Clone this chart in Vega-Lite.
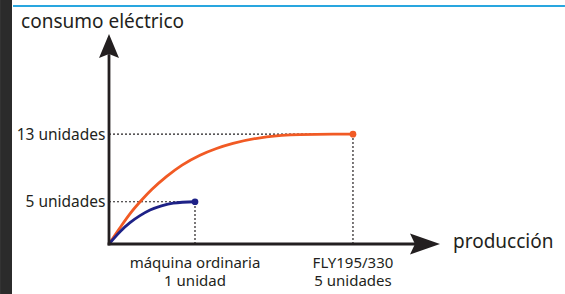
{
  "$schema": "https://vega.github.io/schema/vega-lite/v6.json",
  "autosize": "none",
  "width": 331,
  "height": 210,
  "padding": {"left": 109, "top": 34, "right": 125, "bottom": 50},
  "background": "white",
  "config": {"view": {"stroke": null}, "font": "Noto Sans"},
  "datasets": {
    "curves": [
      {"series": "orange", "x": 0, "y": 0},
      {"series": "orange", "x": 0.13, "y": 1.95},
      {"series": "orange", "x": 0.25, "y": 3.65},
      {"series": "orange", "x": 0.38, "y": 5.2},
      {"series": "orange", "x": 0.5, "y": 6.47},
      {"series": "orange", "x": 0.671, "y": 8.0},
      {"series": "orange", "x": 0.85, "y": 9.33},
      {"series": "orange", "x": 1.058, "y": 10.5},
      {"series": "orange", "x": 1.25, "y": 11.3},
      {"series": "orange", "x": 1.442, "y": 11.9},
      {"series": "orange", "x": 1.834, "y": 12.68},
      {"series": "orange", "x": 2.221, "y": 12.95},
      {"series": "orange", "x": 2.605, "y": 13.0},
      {"series": "orange", "x": 2.837, "y": 13.0},
      {"series": "blue", "x": 0, "y": 0},
      {"series": "blue", "x": 0.128, "y": 1.46},
      {"series": "blue", "x": 0.244, "y": 2.52},
      {"series": "blue", "x": 0.36, "y": 3.35},
      {"series": "blue", "x": 0.477, "y": 4.02},
      {"series": "blue", "x": 0.61, "y": 4.52},
      {"series": "blue", "x": 0.748, "y": 4.84},
      {"series": "blue", "x": 1.0, "y": 5.0}
    ],
    "ends": [
      {"series": "blue", "x": 1.0, "y": 5.0, "base": 0, "label": "máquina ordinaria\n1 unidad"},
      {"series": "orange", "x": 2.837, "y": 13.0, "base": 0, "label": "FLY195/330\n5 unidades"}
    ],
    "axes": [
      {"x": 0, "y": 0, "x2": 3.6, "y2": 0},
      {"x": 0, "y": 0, "x2": 0, "y2": 22.3}
    ],
    "arrows": [
      {"dir": "right", "x": 3.849, "y": 0},
      {"dir": "up", "x": 0, "y": 24.85}
    ],
    "texts": [
      {"t": "consumo eléctrico", "x": -1.023, "y": 26.27},
      {"t": "producción", "x": 4.0, "y": 0.24}
    ],
    "deco_line": [{"x": -1.116, "x2": 5.302, "y": 28.17}],
    "deco_strip": [{"x": -1.267, "x2": -1.128, "y": -5.92, "y2": 28.88}]
  },
  "layer": [
    {
      "data": {"name": "deco_strip"},
      "mark": {"type": "rect", "color": "#2b2b2b"},
      "encoding": {
        "x": {"field": "x", "type": "quantitative", "scale": {"domain": [0, 3.849], "nice": false, "zero": false}, "axis": null},
        "x2": {"field": "x2"},
        "y": {"field": "y", "type": "quantitative", "scale": {"domain": [0, 24.85], "nice": false, "zero": false},
              "axis": {"values": [5, 13], "labelExpr": "datum.value + ' unidades'", "domain": false, "ticks": false, "grid": false, "title": null, "labelFontSize": 15.5, "labelColor": "#231f20", "labelPadding": 4, "labelFont": "Noto Sans"}},
        "y2": {"field": "y2"}
      }
    },
    {
      "data": {"name": "deco_line"},
      "mark": {"type": "rule", "color": "#29a6df", "strokeWidth": 2},
      "encoding": {
        "x": {"field": "x", "type": "quantitative"},
        "x2": {"field": "x2"},
        "y": {"field": "y", "type": "quantitative"}
      }
    },
    {
      "data": {"name": "ends"},
      "mark": {"type": "rule", "color": "#231f20", "strokeWidth": 1.2, "strokeDash": [2, 2]},
      "encoding": {
        "x": {"field": "base", "type": "quantitative"},
        "x2": {"field": "x"},
        "y": {"field": "y", "type": "quantitative"}
      }
    },
    {
      "data": {"name": "ends"},
      "mark": {"type": "rule", "color": "#231f20", "strokeWidth": 1.2, "strokeDash": [2, 2]},
      "encoding": {
        "x": {"field": "x", "type": "quantitative"},
        "y": {"field": "base", "type": "quantitative"},
        "y2": {"field": "y"}
      }
    },
    {
      "data": {"name": "curves"},
      "mark": {"type": "line", "interpolate": "monotone", "strokeWidth": 2.8},
      "encoding": {
        "x": {"field": "x", "type": "quantitative"},
        "y": {"field": "y", "type": "quantitative"},
        "color": {"field": "series", "type": "nominal", "scale": {"domain": ["blue", "orange"], "range": ["#1e2287", "#f15a24"]}, "legend": null}
      }
    },
    {
      "data": {"name": "ends"},
      "mark": {"type": "point", "filled": true, "size": 45, "opacity": 1},
      "encoding": {
        "x": {"field": "x", "type": "quantitative"},
        "y": {"field": "y", "type": "quantitative"},
        "color": {"field": "series", "type": "nominal", "legend": null}
      }
    },
    {
      "data": {"name": "axes"},
      "mark": {"type": "rule", "color": "#231f20", "strokeWidth": 2.8, "strokeCap": "square"},
      "encoding": {
        "x": {"field": "x", "type": "quantitative"},
        "x2": {"field": "x2"},
        "y": {"field": "y", "type": "quantitative"},
        "y2": {"field": "y2"}
      }
    },
    {
      "data": {"name": "arrows"},
      "transform": [{"filter": "datum.dir === 'right'"}],
      "mark": {"type": "point", "filled": true, "opacity": 1, "color": "#231f20", "size": 900, "shape": "M0,0 L-2,-0.7 L-1.67,0 L-2,0.7 Z"},
      "encoding": {
        "x": {"field": "x", "type": "quantitative"},
        "y": {"field": "y", "type": "quantitative"}
      }
    },
    {
      "data": {"name": "arrows"},
      "transform": [{"filter": "datum.dir === 'up'"}],
      "mark": {"type": "point", "filled": true, "opacity": 1, "color": "#231f20", "size": 576, "shape": "M0,0 L-0.833,2 L0,1.67 L0.833,2 Z"},
      "encoding": {
        "x": {"field": "x", "type": "quantitative"},
        "y": {"field": "y", "type": "quantitative"}
      }
    },
    {
      "data": {"name": "ends"},
      "mark": {"type": "text", "align": "center", "baseline": "top", "dy": 12, "fontSize": 15, "lineHeight": 18, "lineBreak": "\n", "color": "#231f20", "font": "Noto Sans"},
      "encoding": {
        "x": {"field": "x", "type": "quantitative"},
        "y": {"field": "base", "type": "quantitative"},
        "text": {"field": "label"}
      }
    },
    {
      "data": {"name": "texts"},
      "mark": {"type": "text", "align": "left", "baseline": "middle", "fontSize": 19, "color": "#231f20", "font": "Noto Sans"},
      "encoding": {
        "x": {"field": "x", "type": "quantitative"},
        "y": {"field": "y", "type": "quantitative"},
        "text": {"field": "t"}
      }
    }
  ]
}
